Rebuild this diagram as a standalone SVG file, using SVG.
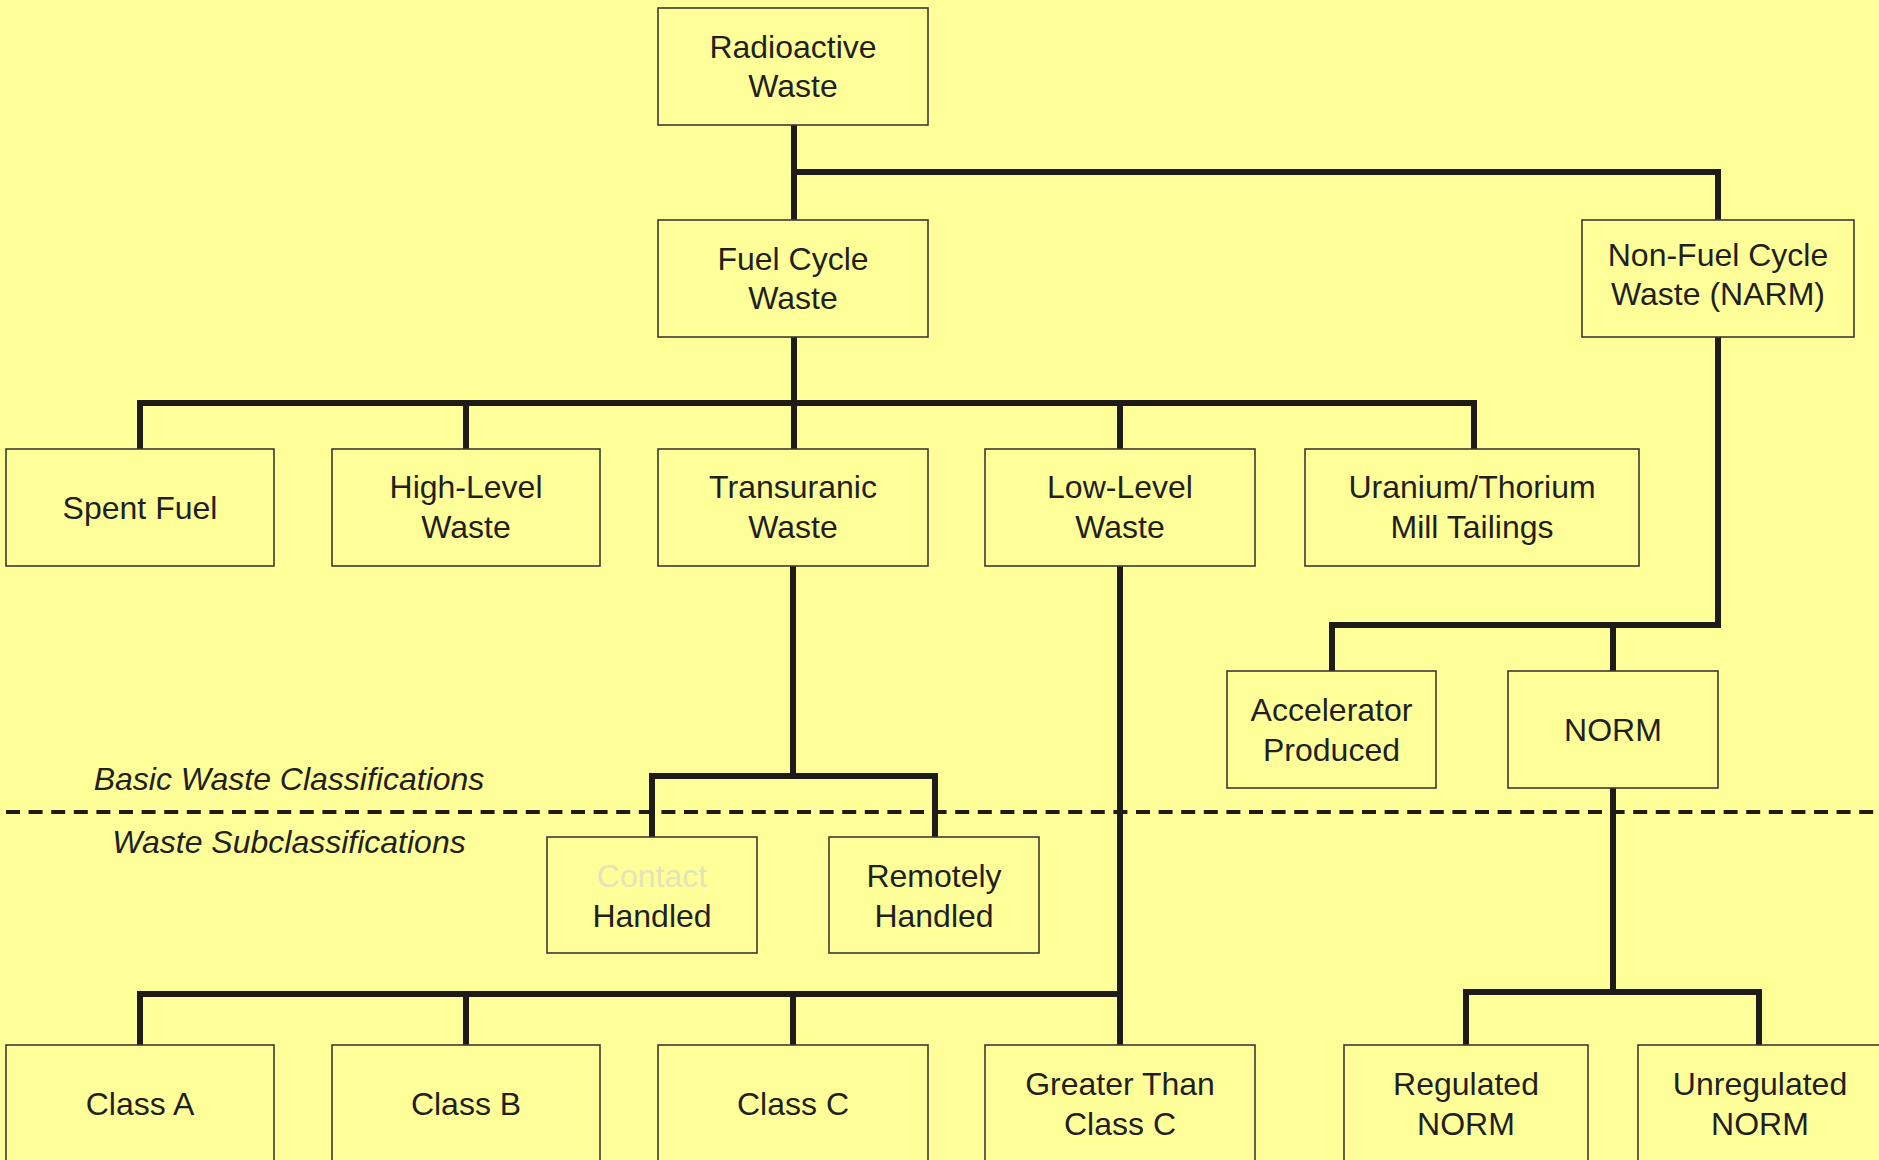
<svg xmlns="http://www.w3.org/2000/svg" width="1879" height="1160" viewBox="0 0 1879 1160">
<style>
.bg{fill:#ffff99}
.box rect{fill:#ffff99;stroke:#3d3a33;stroke-width:1.6}
text{font-family:"Liberation Sans",Arial,Helvetica,sans-serif;font-size:32px;fill:#231f20;text-anchor:middle}
.lbl{font-style:italic}
.faint{fill:#e4e4b8}
.conn path{fill:none;stroke:#1f1b19;stroke-width:6;stroke-linejoin:miter;stroke-linecap:butt}
.dash{fill:none;stroke:#1f1b19;stroke-width:4;stroke-dasharray:14 8.6}
</style>
<rect class="bg" x="0" y="0" width="1879" height="1160"/>
<g id="connectors" class="conn">
<path d="M794,125 V220"/>
<path d="M794,172 H1718 V220"/>
<path d="M794,337 V449"/>
<path d="M140,449 V403 H1474 V449"/>
<path d="M466,403 V449"/>
<path d="M1120,403 V449"/>
<path d="M1718,337 V625 H1332 V671"/>
<path d="M1613,625 V671"/>
<path d="M793,566 V776"/>
<path d="M652,837 V776 H935 V837"/>
<path d="M1120,566 V1045"/>
<path d="M140,1045 V994 H1123"/>
<path d="M466,994 V1045"/>
<path d="M793,994 V1045"/>
<path d="M1613,788 V992"/>
<path d="M1466,1045 V992 H1759 V1045"/>
</g>
<path id="divider" class="dash" d="M6,812 H1879"/>
<g id="label-basic"><text class="lbl" x="289" y="790">Basic Waste Classifications</text></g>
<g id="label-sub"><text class="lbl" x="289" y="853">Waste Subclassifications</text></g>
<g id="radioactive" class="box"><rect x="658" y="8" width="270" height="117"/><text x="793" y="58">Radioactive</text><text x="793" y="97">Waste</text></g>
<g id="fuelcycle" class="box"><rect x="658" y="220" width="270" height="117"/><text x="793" y="270">Fuel Cycle</text><text x="793" y="309">Waste</text></g>
<g id="nonfuel" class="box"><rect x="1582" y="220" width="272" height="117"/><text x="1718" y="266">Non-Fuel Cycle</text><text x="1718" y="305">Waste (NARM)</text></g>
<g id="spent" class="box"><rect x="6" y="449" width="268" height="117"/><text x="140" y="519">Spent Fuel</text></g>
<g id="highlevel" class="box"><rect x="332" y="449" width="268" height="117"/><text x="466" y="498">High-Level</text><text x="466" y="538">Waste</text></g>
<g id="transuranic" class="box"><rect x="658" y="449" width="270" height="117"/><text x="793" y="498">Transuranic</text><text x="793" y="538">Waste</text></g>
<g id="lowlevel" class="box"><rect x="985" y="449" width="270" height="117"/><text x="1120" y="498">Low-Level</text><text x="1120" y="538">Waste</text></g>
<g id="uranium" class="box"><rect x="1305" y="449" width="334" height="117"/><text x="1472" y="498">Uranium/Thorium</text><text x="1472" y="538">Mill Tailings</text></g>
<g id="accelerator" class="box"><rect x="1227" y="671" width="209" height="117"/><text x="1331.5" y="721">Accelerator</text><text x="1331.5" y="761">Produced</text></g>
<g id="norm" class="box"><rect x="1508" y="671" width="210" height="117"/><text x="1613" y="741">NORM</text></g>
<g id="contact" class="box"><rect x="547" y="837" width="210" height="116"/><text class="faint" x="652" y="887">Contact</text><text x="652" y="927">Handled</text></g>
<g id="remotely" class="box"><rect x="829" y="837" width="210" height="116"/><text x="934" y="887">Remotely</text><text x="934" y="927">Handled</text></g>
<g id="classA" class="box"><rect x="6" y="1045" width="268" height="117"/><text x="140" y="1115">Class A</text></g>
<g id="classB" class="box"><rect x="332" y="1045" width="268" height="117"/><text x="466" y="1115">Class B</text></g>
<g id="classC" class="box"><rect x="658" y="1045" width="270" height="117"/><text x="793" y="1115">Class C</text></g>
<g id="gtcc" class="box"><rect x="985" y="1045" width="270" height="117"/><text x="1120" y="1095">Greater Than</text><text x="1120" y="1135">Class C</text></g>
<g id="regulated" class="box"><rect x="1344" y="1045" width="244" height="117"/><text x="1466" y="1095">Regulated</text><text x="1466" y="1135">NORM</text></g>
<g id="unregulated" class="box"><rect x="1638" y="1045" width="244" height="117"/><text x="1760" y="1095">Unregulated</text><text x="1760" y="1135">NORM</text></g>
</svg>
